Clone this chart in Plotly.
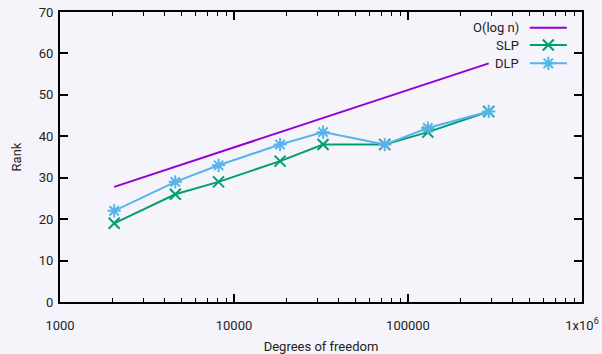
import plotly.graph_objects as go

dof = [2048, 4600, 8150, 18400, 32500, 73500, 130000, 291000]
slp = [19, 26, 29, 34, 38, 38, 41, 46]
dlp = [22, 29, 33, 38, 41, 38, 42, 46]
olog_x = [2048, 291000]
olog_y = [27.8, 57.6]

x_tickvals = [1000, 10000, 100000, 1000000]
x_ticktext = ["1000", "10000", "100000", "1x10<sup>6</sup>"]
y_tickvals = [0, 10, 20, 30, 40, 50, 60, 70]

names = ["O(log n)", "SLP", "DLP"]
colors = ["#9400d3", "#009e73", "#56b4e9"]
symbols = [None, "x-thin-open", "asterisk-open"]

FONT = "Roboto, 'Noto Sans', sans-serif"
BG = "#f6f4fb"

fig = go.Figure()
fig.add_trace(go.Scatter(x=olog_x, y=olog_y, mode="lines", name=names[0],
                         line=dict(color=colors[0], width=2), showlegend=False))
fig.add_trace(go.Scatter(x=dof, y=slp, mode="lines+markers", name=names[1],
                         line=dict(color=colors[1], width=2),
                         marker=dict(symbol=symbols[1], size=11, line=dict(color=colors[1], width=2)),
                         showlegend=False))
fig.add_trace(go.Scatter(x=dof, y=dlp, mode="lines+markers", name=names[2],
                         line=dict(color=colors[2], width=2),
                         marker=dict(symbol=symbols[2], size=11, line=dict(color=colors[2], width=2)),
                         showlegend=False))

# gnuplot-style legend (text before sample) on an overlay axis in plot fractions
leg_rows = [0.946, 0.886, 0.823]
for i in range(3):
    fig.add_trace(go.Scatter(x=[0.900, 0.971], y=[leg_rows[i]] * 2, mode="lines",
                             line=dict(color=colors[i], width=2), xaxis="x2", yaxis="y2",
                             showlegend=False, hoverinfo="skip"))
    if symbols[i]:
        fig.add_trace(go.Scatter(x=[0.9355], y=[leg_rows[i]], mode="markers",
                                 marker=dict(symbol=symbols[i], size=11, color=colors[i],
                                             line=dict(color=colors[i], width=2)),
                                 xaxis="x2", yaxis="y2", showlegend=False, hoverinfo="skip"))
    fig.add_annotation(x=0.884, y=leg_rows[i], xref="paper", yref="paper", text=names[i],
                       showarrow=False, xanchor="right", yanchor="middle",
                       font=dict(family=FONT, size=13, color="#222"))

fig.update_layout(
    width=602, height=354,
    margin=dict(l=60, r=20, t=12, b=52),
    paper_bgcolor=BG, plot_bgcolor=BG,
    font=dict(family=FONT, size=13, color="#222"),
    showlegend=False,
    xaxis=dict(type="log", range=[3, 6], tickvals=x_tickvals, ticktext=x_ticktext,
               ticks="inside", ticklen=8, tickwidth=1.5, tickcolor="black",
               showline=True, linecolor="black", linewidth=2, mirror="allticks",
               showgrid=False, zeroline=False, ticklabelstandoff=10, automargin=False,
               minor=dict(ticks="inside", ticklen=4, tickwidth=1.2, tickcolor="black",
                          dtick="D1", showgrid=False),
               title=dict(text="Degrees of freedom", standoff=14, font=dict(size=13))),
    yaxis=dict(range=[0, 70], tickvals=y_tickvals,
               ticks="inside", ticklen=8, tickwidth=1.5, tickcolor="black",
               showline=True, linecolor="black", linewidth=2, mirror="allticks",
               showgrid=False, zeroline=False, ticklabelstandoff=2, automargin=False,
               title=dict(text="Rank", standoff=14, font=dict(size=13))),
    xaxis2=dict(overlaying="x", range=[0, 1], visible=False, fixedrange=True),
    yaxis2=dict(overlaying="y", range=[0, 1], visible=False, fixedrange=True),
)

fig.write_html("out.html", config={"displayModeBar": False},
               post_script="document.body.style.margin='0';document.body.style.background='%s';" % BG)
